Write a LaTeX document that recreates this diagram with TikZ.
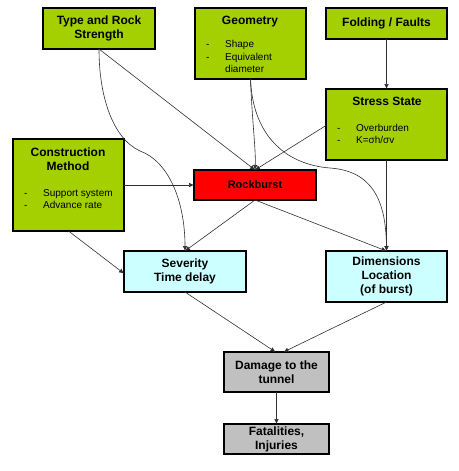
\documentclass[tikz,border=0pt]{standalone}
\usepackage{fontspec}
\setmainfont{Liberation Sans}
\usetikzlibrary{arrows.meta}
\definecolor{boxgreen}{HTML}{A4CF00}
\definecolor{boxred}{HTML}{FF0000}
\definecolor{boxcyan}{HTML}{CCFFFF}
\definecolor{boxgray}{HTML}{C0C0C0}
\definecolor{wire}{HTML}{303030}
\begin{document}
\begin{tikzpicture}[x=1pt,y=-1pt,
  box/.style={draw=black,line width=1.1pt,inner sep=0pt,outer sep=0pt,align=center,
    font=\bfseries\fontsize{12}{14}\selectfont},
  gbox/.style={box,fill=boxgreen},
  rbox/.style={box,fill=boxred,font=\bfseries\fontsize{11}{13}\selectfont},
  cbox/.style={box,fill=boxcyan},
  ybox/.style={box,fill=boxgray},
  title/.style={inner sep=0pt,align=center,font=\bfseries\fontsize{12}{14}\selectfont},
  bullets/.style={inner sep=0pt,anchor=base west},
  conn/.style={draw=wire,line width=0.6pt,-{Latex[length=5pt,width=4.5pt]}},
  plain/.style={draw=wire,line width=0.6pt}]
\useasboundingbox (0,0) rectangle (458,471);
\fill[white] (0,0) rectangle (458,471);

% boxes
\node[gbox,minimum width=112pt,minimum height=41pt] (type) at (99,28.5) {Type and Rock\\Strength};
\node[gbox,minimum width=111pt,minimum height=71pt] (geo) at (250.5,43.5) {};
\node[gbox,minimum width=121pt,minimum height=31pt] (fold) at (386.5,23.5) {Folding / Faults};
\node[gbox,minimum width=121pt,minimum height=71pt] (stress) at (386.5,124.5) {};
\node[gbox,minimum width=111pt,minimum height=92pt] (cons) at (68.5,185) {};
\node[rbox,minimum width=122pt,minimum height=30pt] (rock) at (255,185) {Rockburst};
\node[cbox,minimum width=122pt,minimum height=41pt] (sev) at (185,271.5) {Severity\\Time delay};
\node[cbox,minimum width=121pt,minimum height=51pt] (dim) at (386.5,276.5) {Dimensions\\Location\\(of burst)};
\node[ybox,minimum width=105pt,minimum height=40pt] (dam) at (276.5,372) {Damage to the\\tunnel};
\node[ybox,minimum width=105pt,minimum height=30pt] (fat) at (276.5,439) {Fatalities,\\Injuries};

% texts inside the larger boxes
\node[title] (geot) at (250,22) {Geometry};
\node[bullets] (geob) at (206,47.5) {\fontsize{10}{12.5}\selectfont
  \begin{tabular}[t]{@{}p{19pt}@{}l@{}}-&Shape\\-&Equivalent\\&diameter\end{tabular}};
\node[title] (stresst) at (387,101) {Stress State};
\node[bullets] (stressb) at (337,131.5) {\fontsize{10}{12}\selectfont
  \begin{tabular}[t]{@{}p{19pt}@{}l@{}}-&Overburden\\-&K=σh/σv\end{tabular}};
\node[title] (const) at (68,159) {Construction\\Method};
\node[bullets] (consb) at (24,196.5) {\fontsize{10}{12}\selectfont
  \begin{tabular}[t]{@{}p{19pt}@{}l@{}}-&Support system\\-&Advance rate\end{tabular}};

% connectors
\draw[conn] (type.south) -- (rock.north);
\draw[conn] (type.south) .. controls (99,95) and (112,138) .. (140,151)
  .. controls (168,161) and (185,200) .. (sev.north);
\draw[conn] (geo.south) .. controls (252,120) and (256,150) .. (rock.north);
\draw[conn] (geo.south) .. controls (253,140) and (290,165) .. (330,168)
  .. controls (372,171) and (386,200) .. (dim.north);
\draw[conn] (fold.south) -- (stress.north);
\draw[conn] (stress.west) ++(0,1) -- (rock.north);
\draw[conn] (stress.south) -- (dim.north);
\draw[conn] (cons.east) -- (rock.west);
\draw[conn] (cons.south) -- ([yshift=-2pt]sev.west);
\draw[conn] (rock.south) -- (sev.north);
\draw[conn] (rock.south) -- (dim.north);
\draw[conn] (sev.south) -- ([xshift=-1pt]dam.north);
\draw[conn] (dim.south) -- ([xshift=7pt]dam.north);
\draw[conn] (dam.south) -- (fat.north);
\end{tikzpicture}
\end{document}
